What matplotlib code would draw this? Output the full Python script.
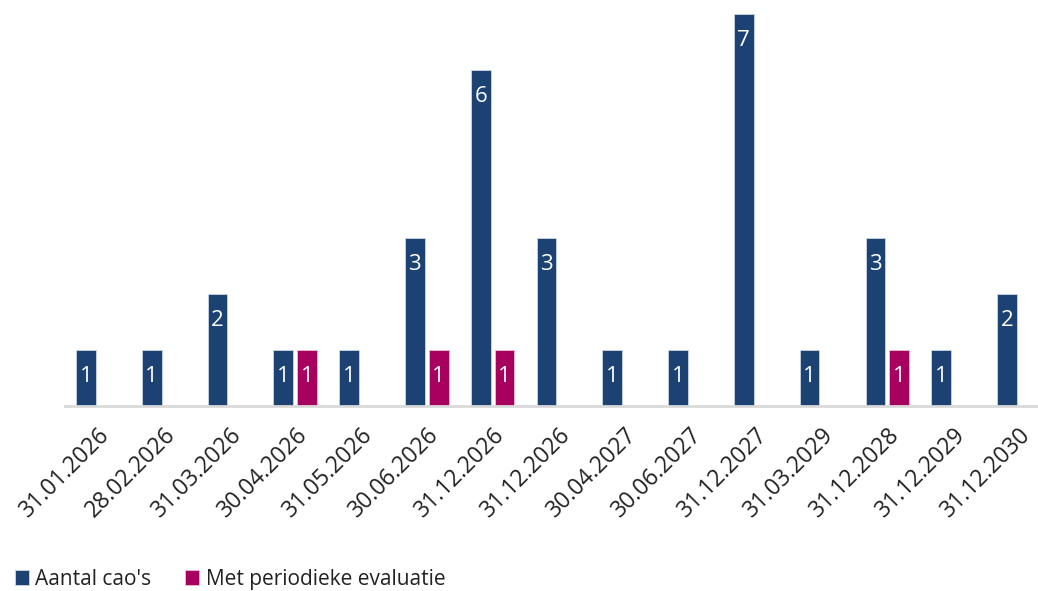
import matplotlib.pyplot as plt
import numpy as np

plt.rcParams['font.family'] = ['Open Sans', 'DejaVu Sans']

dates = ['31.01.2026', '28.02.2026', '31.03.2026', '30.04.2026', '31.05.2026',
         '30.06.2026', '31.12.2026', '31.12.2026', '30.04.2027', '30.06.2027',
         '31.12.2027', '31.03.2029', '31.12.2028', '31.12.2029', '31.12.2030']
aantal = [1, 1, 2, 1, 1, 3, 6, 3, 1, 1, 7, 1, 3, 1, 2]
evaluatie = [0, 0, 0, 1, 0, 1, 1, 0, 0, 0, 0, 0, 1, 0, 0]

blue = '#1b4272'
magenta = '#a8005f'

fig = plt.figure(figsize=(10.38, 5.91), dpi=100)
ax = fig.add_axes([65 / 1038, 185 / 591, 1 - 65 / 1038, 392 / 591])

x = np.arange(len(dates))
w = 0.30
off = 0.182

ax.bar(x - off, aantal, w, color=blue, edgecolor='#c9d6e6', linewidth=0.6, label="Aantal cao's")
ev = np.array(evaluatie)
ax.bar(x[ev > 0] + off, ev[ev > 0], w, color=magenta, edgecolor='#e6c0d4', linewidth=0.6,
       label='Met periodieke evaluatie')

for xi, v in zip(x, aantal):
    ax.text(xi - off, v - 0.48, str(v), color='white', ha='center', va='center', fontsize=16)
for xi, v in zip(x, evaluatie):
    if v > 0:
        ax.text(xi + off, v - 0.48, str(v), color='white', ha='center', va='center', fontsize=16)

ax.set_xlim(-0.5, 14.29)
ax.set_ylim(0, 7)
ax.set_xticks(x)
ax.set_xticklabels(dates, rotation=45, ha='right', rotation_mode='anchor', fontsize=16.5, color='#222222')
ax.tick_params(axis='x', length=0, pad=12)
ax.set_yticks([])
for s in ['top', 'right', 'left']:
    ax.spines[s].set_visible(False)
ax.spines['bottom'].set_color('#d9d9d9')
ax.spines['bottom'].set_linewidth(2)

fig.legend(loc='lower left', bbox_to_anchor=(-0.004, -0.03), ncol=2, frameon=False, fontsize=15,
           handlelength=0.7, handleheight=0.7, handletextpad=0.3, columnspacing=1.6,
           labelcolor='#222222')

fig.savefig('out.png', dpi=100)
